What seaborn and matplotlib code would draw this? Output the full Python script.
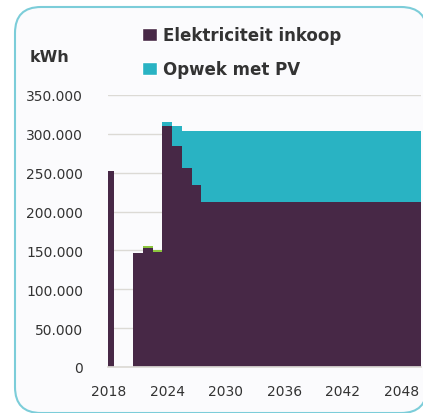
import numpy as np
import pandas as pd
import matplotlib
matplotlib.use("Agg")
import matplotlib.pyplot as plt
import seaborn as sns
from matplotlib.patches import Patch, FancyBboxPatch
from matplotlib.ticker import FuncFormatter
from matplotlib.transforms import IdentityTransform

# data
jaren = [str(j) for j in range(2018, 2051)]
inkoop = [252000, 0, 0, 147000, 153000, 148000, 310000, 285000, 256000, 234000] + [212000] * 23
opwek_pv = [0, 0, 0, 0, 0, 0, 5000, 25000, 48000, 70000] + [92000] * 23
overig = [0, 0, 0, 0, 2500, 2500, 0, 0, 0, 0] + [0] * 23

PAARS = '#472846'
CYAAN = '#29b3c3'
GROEN = '#8dc63f'
TEKST = '#333333'

df = pd.DataFrame({'jaar': jaren, 'inkoop': inkoop, 'pv': opwek_pv, 'overig': overig})
df['top_pv'] = df['inkoop'] + df['pv']
df['top_all'] = df['top_pv'] + df['overig']

sns.set_theme(style='white')
plt.rcParams['font.family'] = ['DejaVu Sans']

fig = plt.figure(figsize=(4.23, 4.14), dpi=100)
fig.patch.set_facecolor('white')

# afgeronde kader
kader = FancyBboxPatch((15, 0), 412, 406, boxstyle='round,pad=0,rounding_size=26',
                       transform=IdentityTransform(), facecolor='#fbfbfd',
                       edgecolor='#7ccdd9', linewidth=1.5, zorder=-5)
fig.patches.append(kader)

ax = fig.add_axes([108 / 423, 46 / 414, 313 / 423, 272 / 414])
ax.patch.set_alpha(0)
ax.set_zorder(2)

# gestapelde balken via overlap
sns.barplot(data=df, x='jaar', y='top_all', color=GROEN, width=1, saturation=1, linewidth=0, ax=ax, zorder=2)
sns.barplot(data=df, x='jaar', y='top_pv', color=CYAAN, width=1, saturation=1, linewidth=0, ax=ax, zorder=2)
sns.barplot(data=df, x='jaar', y='inkoop', color=PAARS, width=1, saturation=1, linewidth=0, ax=ax, zorder=2)

ax.set_xlim(-0.09, 32.04)
ax.set_ylim(0, 350000)
ax.set_yticks(np.arange(0, 350001, 50000))
ax.yaxis.set_major_formatter(FuncFormatter(lambda v, p: f"{int(v):,}".replace(',', '.')))
ax.set_xticks(range(0, len(jaren), 6))
ax.set_xticklabels(jaren[::6])
ax.set_xlabel('')
ax.set_ylabel('')

ax.grid(axis='y', color='#dcdad5', linewidth=1)
ax.set_axisbelow(True)
ax.xaxis.set_zorder(3)
for s in ['left', 'right', 'top']:
    ax.spines[s].set_visible(False)
ax.spines['bottom'].set_color('#dcdad5')
ax.spines['bottom'].set_zorder(3)

ax.tick_params(axis='y', length=0, pad=18, labelsize=10, labelcolor=TEKST)
ax.tick_params(axis='x', direction='in', length=4, color='#b8aab8', pad=12, labelsize=10, labelcolor=TEKST)

fig.text(30 / 423, 1 - 58 / 414, 'kWh', fontsize=11.5, fontweight='bold', color=TEKST, va='center', ha='left')

handles = [Patch(facecolor=PAARS, label='Elektriciteit inkoop'),
           Patch(facecolor=CYAAN, label='Opwek met PV')]
leg = fig.legend(handles=handles, loc='upper left', bbox_to_anchor=(134 / 423, 1 - 19 / 414),
                 frameon=False, prop={'size': 12, 'weight': 'bold'}, handlelength=0.85,
                 handleheight=0.85, handletextpad=0.4, labelspacing=0.95, borderpad=0)
for t in leg.get_texts():
    t.set_color(TEKST)

fig.savefig('out.png', dpi=100)
